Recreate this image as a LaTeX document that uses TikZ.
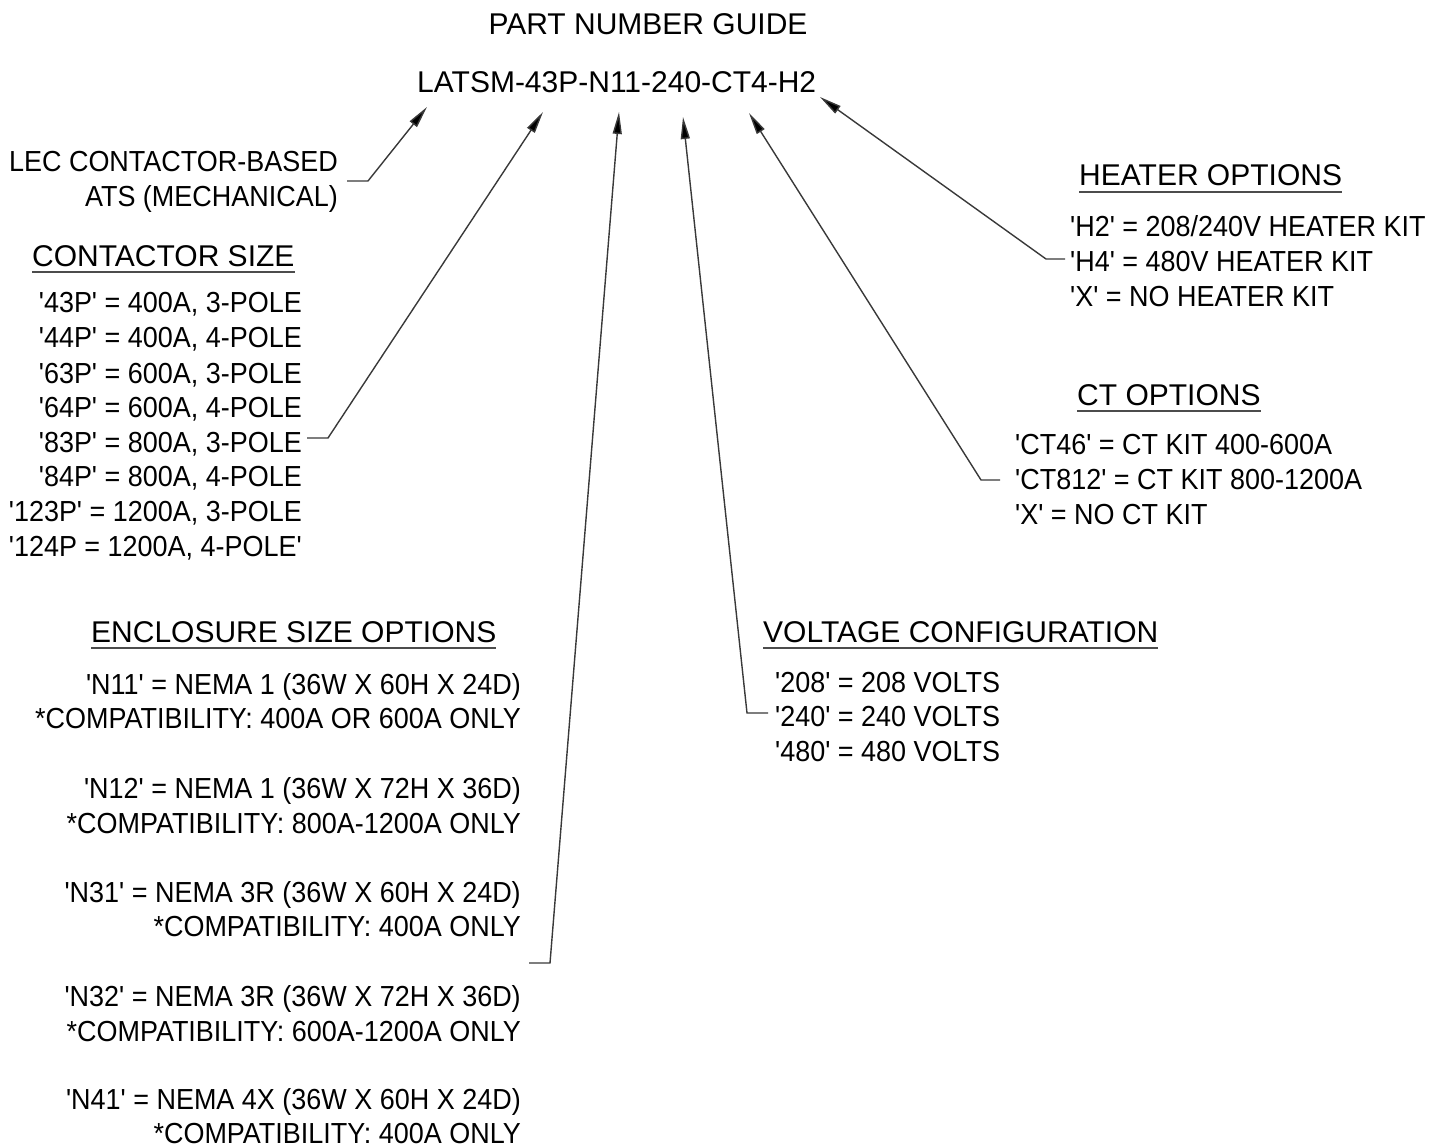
\documentclass[tikz,border=0pt]{standalone}
\usepackage{fontspec}
\setmainfont{Liberation Sans}[Ligatures=TeXOff]
\newfontfamily\narrowfont{Liberation Sans}[Ligatures=TeXOff,FakeStretch=0.93]
\usetikzlibrary{arrows.meta}

\begin{document}
\begin{tikzpicture}[x=1pt,y=-1pt,
  title/.style={font=\fontsize{30}{36}\selectfont, inner sep=0pt},
  head/.style={font=\fontsize{30}{36}\selectfont, inner sep=0pt},
  entry/.style={font=\narrowfont\fontsize{29}{35}\selectfont, inner sep=0pt},
  rule/.style={draw=gray!60!black, line width=1.7pt},
  leader/.style={draw=gray!45!black, line width=1.4pt,
    -{Triangle[length=22pt,width=9pt,fill=black]}},
]
\useasboundingbox (0,0) rectangle (1445,1147);

% title and part number
\node[title, anchor=base] (guide) at (648,35) {PART NUMBER GUIDE};
\node[title, anchor=base west] (pn) at (417,93) {LATSM-43P-N11-240-CT4-H2};

% product family
\node[entry, anchor=base east] (lec1) at (338,172) {LEC CONTACTOR-BASED};
\node[entry, anchor=base east] (lec2) at (338,207) {ATS (MECHANICAL)};

% contactor size
\node[head, anchor=base west] (hcs) at (32,267) {CONTACTOR SIZE};
\draw[rule] ([yshift=-5pt]hcs.base west) -- ([yshift=-5pt]hcs.base east);
\node[entry, anchor=base east] (c1) at (302,313) {'43P' = 400A, 3-POLE};
\node[entry, anchor=base east] (c2) at (302,348) {'44P' = 400A, 4-POLE};
\node[entry, anchor=base east] (c3) at (302,383) {'63P' = 600A, 3-POLE};
\node[entry, anchor=base east] (c4) at (302,417) {'64P' = 600A, 4-POLE};
\node[entry, anchor=base east] (c5) at (302,452) {'83P' = 800A, 3-POLE};
\node[entry, anchor=base east] (c6) at (302,486) {'84P' = 800A, 4-POLE};
\node[entry, anchor=base east] (c7) at (302,521) {'123P' = 1200A, 3-POLE};
\node[entry, anchor=base east] (c8) at (302,556) {'124P = 1200A, 4-POLE'};

% enclosure size
\node[head, anchor=base west] (hen) at (91,642) {ENCLOSURE SIZE OPTIONS};
\draw[rule] ([yshift=-6pt]hen.base west) -- ([yshift=-6pt]hen.base east);
\node[entry, anchor=base east] (e1) at (521,694) {'N11' = NEMA 1 (36W X 60H X 24D)};
\node[entry, anchor=base east] (e2) at (521,728) {*COMPATIBILITY: 400A OR 600A ONLY};
\node[entry, anchor=base east] (e3) at (521,798) {'N12' = NEMA 1 (36W X 72H X 36D)};
\node[entry, anchor=base east] (e4) at (521,833) {*COMPATIBILITY: 800A-1200A ONLY};
\node[entry, anchor=base east] (e5) at (521,902) {'N31' = NEMA 3R (36W X 60H X 24D)};
\node[entry, anchor=base east] (e6) at (521,936) {*COMPATIBILITY: 400A ONLY};
\node[entry, anchor=base east] (e7) at (521,1006) {'N32' = NEMA 3R (36W X 72H X 36D)};
\node[entry, anchor=base east] (e8) at (521,1041) {*COMPATIBILITY: 600A-1200A ONLY};
\node[entry, anchor=base east] (e9) at (521,1109) {'N41' = NEMA 4X (36W X 60H X 24D)};
\node[entry, anchor=base east] (e10) at (521,1143) {*COMPATIBILITY: 400A ONLY};

% voltage
\node[head, anchor=base west] (hvo) at (763,642) {VOLTAGE CONFIGURATION};
\draw[rule] ([yshift=-6pt]hvo.base west) -- ([yshift=-6pt]hvo.base east);
\node[entry, anchor=base west] (v1) at (775,692) {'208' = 208 VOLTS};
\node[entry, anchor=base west] (v2) at (775,726) {'240' = 240 VOLTS};
\node[entry, anchor=base west] (v3) at (775,761) {'480' = 480 VOLTS};

% heater
\node[head, anchor=base west] (hhe) at (1079,186) {HEATER OPTIONS};
\draw[rule] ([yshift=-6pt]hhe.base west) -- ([yshift=-6pt]hhe.base east);
\node[entry, anchor=base west] (h1) at (1070,237) {'H2' = 208/240V HEATER KIT};
\node[entry, anchor=base west] (h2) at (1070,272) {'H4' = 480V HEATER KIT};
\node[entry, anchor=base west] (h3) at (1070,307) {'X' = NO HEATER KIT};

% CT
\node[head, anchor=base west] (hct) at (1077,405) {CT OPTIONS};
\draw[rule] ([yshift=-6pt]hct.base west) -- ([yshift=-6pt]hct.base east);
\node[entry, anchor=base west] (t1) at (1015,454) {'CT46' = CT KIT 400-600A};
\node[entry, anchor=base west] (t2) at (1015,489) {'CT812' = CT KIT 800-1200A};
\node[entry, anchor=base west] (t3) at (1015,524) {'X' = NO CT KIT};

% leader lines: start, elbow, tip under the part number
\coordinate (aL0) at (347,181); \coordinate (aL1) at (368,181); \coordinate (aLt) at (427,107);
\coordinate (aC0) at (307,438); \coordinate (aC1) at (328,438); \coordinate (aCt) at (543,112);
\coordinate (aE0) at (529,963); \coordinate (aE1) at (550,963); \coordinate (aEt) at (619,112);
\coordinate (aV0) at (768,713); \coordinate (aV1) at (747,713); \coordinate (aVt) at (683,117);
\coordinate (aT0) at (1000,480); \coordinate (aT1) at (981,480); \coordinate (aTt) at (749,113);
\coordinate (aH0) at (1065,259); \coordinate (aH1) at (1046,259); \coordinate (aHt) at (820,97);

\draw[leader] (aL0) -- (aL1) -- (aLt);
\draw[leader] (aC0) -- (aC1) -- (aCt);
\draw[leader] (aE0) -- (aE1) -- (aEt);
\draw[leader] (aV0) -- (aV1) -- (aVt);
\draw[leader] (aT0) -- (aT1) -- (aTt);
\draw[leader] (aH0) -- (aH1) -- (aHt);
\end{tikzpicture}
\end{document}
